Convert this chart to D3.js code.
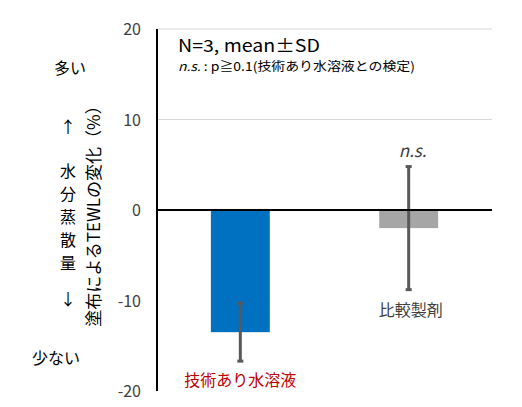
<!DOCTYPE html>
<html><head><meta charset="utf-8">
<script src="https://cdn.jsdelivr.net/npm/d3@7"></script>
<style>body{margin:0;background:#fff}text{font-family:"Noto Sans CJK JP","Noto Sans",sans-serif}</style>
</head><body><svg id="c" width="522" height="407"></svg>
<script>
const categories = ["技術あり水溶液", "比較製剤"];
const means = [-13.5, -2.0];
const sds = [3.2, 6.8];
const colors = ["#0070c0", "#a6a6a6"];
const yTicks = [20, 10, 0, -10, -20];

const svg = d3.select("#c");
const y = d3.scaleLinear().domain([-20, 20]).range([391, 29]);
const x = d3.scaleBand().domain(categories).range([157, 492]).paddingInner(0.65).paddingOuter(0.32);

// gridlines
svg.append("g").selectAll("line").data(yTicks.filter(d => d > 0)).enter().append("line")
  .attr("x1", 157).attr("x2", 492).attr("y1", d => y(d)).attr("y2", d => y(d))
  .attr("stroke", "#d9d9d9");

// bars
svg.append("g").selectAll("rect").data(means).enter().append("rect")
  .attr("x", (d, i) => x(categories[i])).attr("width", x.bandwidth())
  .attr("y", y(0)).attr("height", d => y(d) - y(0))
  .attr("fill", (d, i) => colors[i]);

// error bars
const eb = svg.append("g").attr("stroke", "#595959").attr("stroke-width", 3);
means.forEach((m, i) => {
  const cx = x(categories[i]) + x.bandwidth() / 2;
  eb.append("line").attr("x1", cx).attr("x2", cx).attr("y1", y(m + sds[i])).attr("y2", y(m - sds[i]));
  [m + sds[i], m - sds[i]].forEach(v => eb.append("line").attr("x1", cx - 3).attr("x2", cx + 3).attr("y1", y(v)).attr("y2", y(v)));
});

// axes
svg.append("line").attr("x1", 157).attr("x2", 157).attr("y1", y(20)).attr("y2", y(-20)).attr("stroke", "#000").attr("stroke-width", 2);
svg.append("line").attr("x1", 157).attr("x2", 492).attr("y1", y(0)).attr("y2", y(0)).attr("stroke", "#000").attr("stroke-width", 2);
svg.append("g").selectAll("text").data(yTicks).enter().append("text")
  .attr("x", 141).attr("y", d => y(d) + 6).attr("text-anchor", "end")
  .attr("font-size", 16).attr("fill", "#404040").text(d => d);

// category labels
svg.append("text").attr("x", x(categories[0]) + x.bandwidth() / 2).attr("y", 386).attr("text-anchor", "middle")
  .attr("font-size", 16).attr("fill", "#c00000").text(categories[0]);
svg.append("text").attr("x", x(categories[1]) + x.bandwidth() / 2 + 2).attr("y", 316).attr("text-anchor", "middle")
  .attr("font-size", 16).attr("fill", "#404040").text(categories[1]);

// n.s.
svg.append("text").attr("x", x(categories[1]) + x.bandwidth() / 2 + 4).attr("y", 157).attr("text-anchor", "middle")
  .attr("font-size", 17).attr("font-style", "italic").attr("fill", "#404040").text("n.s.");

// annotation
svg.append("text").attr("x", 178).attr("y", 52).attr("font-size", 17).attr("fill", "#000")
  .attr("textLength", 142).attr("lengthAdjust", "spacingAndGlyphs").text("N=3, mean±SD");
const t2 = svg.append("text").attr("x", 178).attr("y", 71).attr("font-size", 12.5).attr("fill", "#000")
  .attr("textLength", 237).attr("lengthAdjust", "spacingAndGlyphs");
t2.append("tspan").attr("font-style", "italic").text("n.s.");
t2.append("tspan").text(" : p≧0.1(技術あり水溶液との検定)");

// y axis title
svg.append("text").attr("transform", "translate(100,212) rotate(-90)").attr("text-anchor", "middle")
  .attr("font-size", 17).attr("fill", "#000").text("塗布によるTEWLの変化（%）");

// left side legend
const side = [["多い", 70, 74], ["↑", 68, 133], ["水", 68, 177], ["分", 68, 200], ["蒸", 68, 223], ["散", 68, 246], ["量", 68, 269], ["↓", 68, 305], ["少ない", 56, 364]];
svg.append("g").selectAll("text").data(side).enter().append("text")
  .attr("x", d => d[1]).attr("y", d => d[2]).attr("text-anchor", "middle")
  .attr("font-size", 16).attr("fill", "#000").text(d => d[0]);
</script></body></html>
